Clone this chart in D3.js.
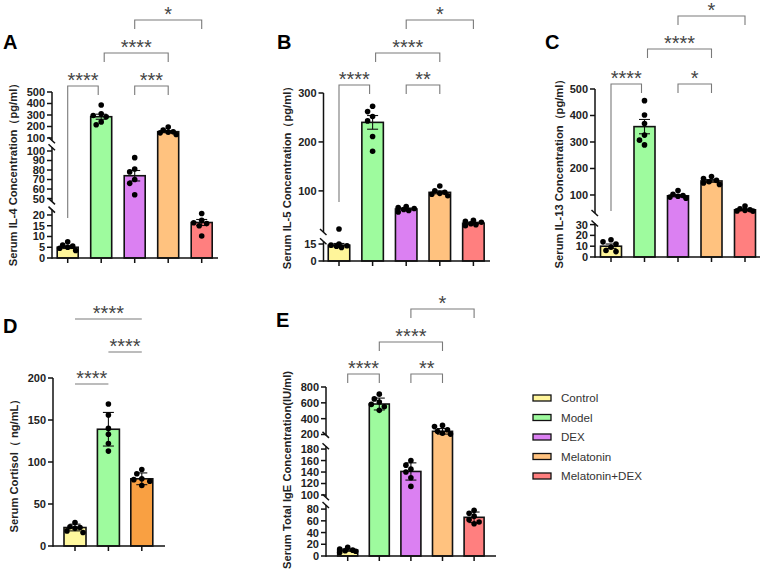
<!DOCTYPE html>
<html>
<head>
<meta charset="utf-8">
<script src="https://cdn.jsdelivr.net/npm/d3@7"></script>
<style>
  body { margin: 0; background: #fff; }
  svg { display: block; font-family: 'Liberation Sans', Arial, sans-serif; }
</style>
</head>
<body>
<script>
// Groups and colours
var groups = ['Control', 'Model', 'DEX', 'Melatonin', 'Melatonin+DEX'];
var groupColors = ['#FFF59A', '#9EFB9E', '#DB80F2', '#FFC27F', '#FF7F7F'];
var dGroups = ['Control', 'Model', 'Melatonin'];
var dColors = ['#FFF89E', '#9EFB9E', '#F9A042'];

// A: IL-4
var aMeans = [5, 285, 74, 155, 16.5];
var aErr = [0.6, 22, 5.5, 9, 1.4];
var aPoints = [[7.5, 6, 5.5, 5, 4.5, 3.5], [387, 310, 295, 285, 240, 215], [93, 81, 78, 70, 66, 54], [195, 170, 155, 150, 145, 130], [20.7, 17.5, 16.4, 16, 15, 10.2]];
var aTicks = [[0, 5, 10, 15, 20], [50, 60, 70, 80, 90, 100], [100, 200, 300, 400, 500]];

// B: IL-5
var bMeans = [14, 240, 63, 97, 34];
var bErr = [1.5, 14, 2, 3, 2];
var bPoints = [[22, 15, 14, 13.5, 13, 12], [273, 262, 252, 243, 211, 181], [68, 66, 64, 62, 60, 57], [110, 100, 97, 95, 93, 90], [40, 38, 36, 33, 31, 29]];
var bTicks = [[0, 15], [100, 200, 300]];

// C: IL-13
var cMeans = [10, 358, 97, 153, 44];
var cErr = [2, 27, 4, 5, 3];
var cPoints = [[16, 14, 12, 9, 6, 5], [456, 402, 370, 326, 307, 289], [117, 103, 98, 95, 92, 88], [170, 162, 155, 150, 145, 140], [58, 48, 44, 42, 40, 39]];
var cTicks = [[0, 10, 20, 30], [100, 200, 300, 400, 500]];

// D: Cortisol
var dMeans = [22, 139, 80];
var dErr = [4, 20, 7];
var dPoints = [[28, 23, 22, 21, 18, 16], [169, 156, 140, 133, 122, 113], [91, 86, 80, 79, 77, 72]];
var dTicks = [[0, 50, 100, 150, 200]];

// E: Total IgE
var eMeans = [10, 585, 141, 240, 66];
var eErr = [2, 75, 15, 35, 9];
var ePoints = [[15, 12, 10, 9, 8, 6], [710, 650, 610, 580, 550, 505], [160, 152, 145, 140, 130, 115], [315, 300, 260, 240, 215, 205], [78, 73, 68, 62, 58, 55]];
var eTicks = [[0, 20, 40, 60, 80], [100, 120, 140, 160, 180], [200, 400, 600, 800]];

var svg = d3.select('body')
    .append('svg')
    .attr('width', 767)
    .attr('height', 578);

// Broken y axis: a list of linear segments, bottom first
function makeY(segs) {
    var scales = segs.map(s => d3.scaleLinear().domain(s.domain).range(s.range));
    var y = function(v) {
        for (var i = 0; i < segs.length; i++) {
            if (v <= segs[i].domain[1]) return scales[i](v);
        }
        return scales[segs.length - 1](v);
    };
    y.seg = scales;
    return y;
}

// Spread dots sideways so they do not pile up
function dodge(vals, yFn, cx) {
    var placed = [];
    var out = [];
    var order = vals.map((v, i) => i).sort((a, b) => vals[b] - vals[a]);
    var cand = [0, -5, 5, -8, 8, -2.5, 2.5];
    order.forEach(function(i) {
        var y = yFn(vals[i]);
        var best = 0, bestD = -1;
        for (var k = 0; k < cand.length; k++) {
            var c = cand[k];
            var minD = placed.length ? d3.min(placed, p => Math.hypot(p[0] - c, p[1] - y)) : Infinity;
            if (minD >= 5.6) { best = c; break; }
            if (minD > bestD) { bestD = minD; best = c; }
        }
        placed.push([best, y]);
        out[i] = cx + best;
    });
    return out;
}

function drawPanel(cfg) {
    var g = svg.append('g');
    var y = makeY(cfg.segs);
    var x = d3.scalePoint()
        .domain(cfg.cats)
        .range([cfg.x0, cfg.x0 + cfg.step * (cfg.cats.length - 1)]);

    // panel letter
    g.append('text')
        .attr('x', cfg.letterX)
        .attr('y', cfg.letterY)
        .attr('font-size', 20)
        .attr('font-weight', 'bold')
        .text(cfg.letter);

    // y title
    g.append('text')
        .attr('transform', `translate(${cfg.titleX + 4}, ${cfg.titleY}) rotate(-90)`)
        .attr('text-anchor', 'middle')
        .attr('font-size', 11.2)
        .attr('font-weight', 'bold')
        .attr('fill', '#222')
        .text(cfg.title);

    // bars
    g.selectAll('rect.bar')
        .data(cfg.means)
        .enter()
        .append('rect')
        .attr('x', (d, i) => x(cfg.cats[i]) - cfg.barW / 2)
        .attr('y', d => y(d))
        .attr('width', cfg.barW)
        .attr('height', d => cfg.baseY - y(d))
        .attr('fill', (d, i) => cfg.colors[i])
        .attr('stroke', '#111')
        .attr('stroke-width', 1.6);

    // error bars
    cfg.means.forEach(function(m, i) {
        var cx = x(cfg.cats[i]);
        var e = cfg.err[i];
        var eg = g.append('g').attr('stroke', '#111').attr('stroke-width', 1.1);
        eg.append('line').attr('x1', cx).attr('x2', cx).attr('y1', y(m - e)).attr('y2', y(m + e));
        eg.append('line').attr('x1', cx - 5.5).attr('x2', cx + 5.5).attr('y1', y(m + e)).attr('y2', y(m + e));
        eg.append('line').attr('x1', cx - 5.5).attr('x2', cx + 5.5).attr('y1', y(m - e)).attr('y2', y(m - e));
    });

    // dots
    cfg.points.forEach(function(vals, i) {
        var xs = dodge(vals, y, x(cfg.cats[i]));
        g.append('g').selectAll('circle')
            .data(vals)
            .enter()
            .append('circle')
            .attr('cx', (d, j) => xs[j])
            .attr('cy', d => y(d))
            .attr('r', 2.8)
            .attr('fill', '#000');
    });

    // y axis segments
    var ax = g.append('g').attr('stroke', '#111').attr('stroke-width', 1.5);
    cfg.segs.forEach(function(s, k) {
        var sy = y.seg[k];
        ax.append('line')
            .attr('x1', cfg.axisX).attr('x2', cfg.axisX)
            .attr('y1', s.range[0] + (k === 0 ? 0.75 : 0)).attr('y2', s.range[1]);
        cfg.ticks[k].forEach(function(t) {
            ax.append('line')
                .attr('x1', cfg.axisX - 5).attr('x2', cfg.axisX)
                .attr('y1', sy(t)).attr('y2', sy(t));
            g.append('text')
                .attr('x', cfg.axisX - 7)
                .attr('y', sy(t))
                .attr('dy', '0.36em')
                .attr('text-anchor', 'end')
                .attr('font-size', 11)
                .attr('font-weight', 'bold')
                .attr('fill', '#222')
                .text(t);
        });
        // break marks
        if (k > 0) {
            ax.append('line')
                .attr('x1', cfg.axisX - 3.5).attr('x2', cfg.axisX + 3)
                .attr('y1', s.range[0] - 3).attr('y2', s.range[0] + 3);
        }
        if (k < cfg.segs.length - 1) {
            ax.append('line')
                .attr('x1', cfg.axisX - 3.5).attr('x2', cfg.axisX + 3)
                .attr('y1', s.range[1] - 3).attr('y2', s.range[1] + 3);
        }
    });

    // x axis
    ax.append('line')
        .attr('x1', cfg.axisX).attr('x2', cfg.axisEnd)
        .attr('y1', cfg.baseY).attr('y2', cfg.baseY);
    cfg.cats.forEach(function(c) {
        ax.append('line')
            .attr('x1', x(c)).attr('x2', x(c))
            .attr('y1', cfg.baseY).attr('y2', cfg.baseY + 5);
    });

    // significance brackets
    cfg.brackets.forEach(function(b) {
        var x1 = x(cfg.cats[b.from]) + (b.dx1 || 0);
        var x2 = x(cfg.cats[b.to]) + (b.dx2 || 0);
        var top = b.top;
        var path = b.legs === false
            ? `M${x1},${top}H${x2}`
            : `M${x1},${b.leg1 || top + 9}V${top}H${x2}V${top + 9}`;
        g.append('path')
            .attr('d', path)
            .attr('fill', 'none')
            .attr('stroke', '#7a7a7a')
            .attr('stroke-width', 1.1);
        g.append('text')
            .attr('x', (x1 + x2) / 2)
            .attr('y', top + 0.5)
            .attr('text-anchor', 'middle')
            .attr('font-size', 20)
            .attr('fill', '#444')
            .text(b.label);
    });
}

drawPanel({
    letter: 'A', letterX: 3, letterY: 49,
    title: 'Serum IL-4 Concentration（pg/ml）', titleX: 13, titleY: 172,
    cats: groups, colors: groupColors,
    means: aMeans, err: aErr, points: aPoints, ticks: aTicks,
    axisX: 52, axisEnd: 218, baseY: 258, x0: 67.7, step: 33.5, barW: 21,
    segs: [
        {domain: [0, 22.5], range: [258, 209.6]},
        {domain: [47, 104], range: [201.4, 147.2]},
        {domain: [80, 500], range: [140.3, 92]}
    ],
    brackets: [
        {from: 0, to: 1, top: 86, leg1: 218, dx2: -3, label: '****'},
        {from: 2, to: 3, top: 86, label: '***'},
        {from: 1, to: 3, top: 53, dx1: 3, label: '****'},
        {from: 2, to: 4, top: 20, label: '*'}
    ]
});

drawPanel({
    letter: 'B', letterX: 277, letterY: 49,
    title: 'Serum IL-5 Concentration（pg/ml）', titleX: 287, titleY: 175,
    cats: groups, colors: groupColors,
    means: bMeans, err: bErr, points: bPoints, ticks: bTicks,
    axisX: 323.5, axisEnd: 490, baseY: 261, x0: 339, step: 33.6, barW: 21.5,
    segs: [
        {domain: [0, 17.5], range: [261, 241.2]},
        {domain: [16, 300], range: [232, 93]}
    ],
    brackets: [
        {from: 0, to: 1, top: 85, leg1: 202, dx2: -3, label: '****'},
        {from: 2, to: 3, top: 85, label: '**'},
        {from: 1, to: 3, top: 53, dx1: 3, label: '****'},
        {from: 2, to: 4, top: 20, label: '*'}
    ]
});

drawPanel({
    letter: 'C', letterX: 545, letterY: 49,
    title: 'Serum IL-13 Concentration（pg/ml）', titleX: 559, titleY: 171,
    cats: groups, colors: groupColors,
    means: cMeans, err: cErr, points: cPoints, ticks: cTicks,
    axisX: 595, axisEnd: 760, baseY: 257, x0: 611, step: 33.5, barW: 21,
    segs: [
        {domain: [0, 31], range: [257, 223.5]},
        {domain: [32, 500], range: [213, 89]}
    ],
    brackets: [
        {from: 0, to: 1, top: 84, leg1: 211, dx2: -3, label: '****'},
        {from: 2, to: 3, top: 84, label: '*'},
        {from: 1, to: 3, top: 49, dx1: 3, label: '****'},
        {from: 2, to: 4, top: 16, label: '*'}
    ]
});

drawPanel({
    letter: 'D', letterX: 3, letterY: 333,
    title: 'Serum Cortisol（ ng/mL）', titleX: 14, titleY: 463,
    cats: dGroups, colors: dColors,
    means: dMeans, err: dErr, points: dPoints, ticks: dTicks,
    axisX: 53, axisEnd: 165, baseY: 546, x0: 75, step: 33.4, barW: 22,
    segs: [
        {domain: [0, 200], range: [546, 378]}
    ],
    brackets: [
        {from: 0, to: 1, top: 384, legs: false, label: '****'},
        {from: 1, to: 2, top: 352, legs: false, label: '****'},
        {from: 0, to: 2, top: 319, legs: false, label: '****'}
    ]
});

drawPanel({
    letter: 'E', letterX: 276, letterY: 327,
    title: 'Serum Total IgE Concentration(IU/ml)', titleX: 287, titleY: 470,
    cats: groups, colors: groupColors,
    means: eMeans, err: eErr, points: ePoints, ticks: eTicks,
    axisX: 326, axisEnd: 496, baseY: 556, x0: 347.7, step: 31.6, barW: 20,
    segs: [
        {domain: [0, 87], range: [556, 505]},
        {domain: [96, 185], range: [497.3, 446.2]},
        {domain: [195, 800], range: [434.9, 387]}
    ],
    brackets: [
        {from: 0, to: 1, top: 374, label: '****'},
        {from: 2, to: 3, top: 374, label: '**'},
        {from: 1, to: 3, top: 342, label: '****'},
        {from: 2, to: 4, top: 309, label: '*'}
    ]
});

// Legend
var legend = svg.append('g');
groups.forEach(function(name, i) {
    var ly = 398 + i * 19.5;
    legend.append('rect')
        .attr('x', 533).attr('y', ly - 3)
        .attr('width', 18).attr('height', 6)
        .attr('fill', groupColors[i])
        .attr('stroke', '#111')
        .attr('stroke-width', 1.3);
    legend.append('text')
        .attr('x', 561).attr('y', ly)
        .attr('dy', '0.36em')
        .attr('font-size', 11.6)
        .attr('fill', '#333')
        .text(name);
});
</script>
</body>
</html>
